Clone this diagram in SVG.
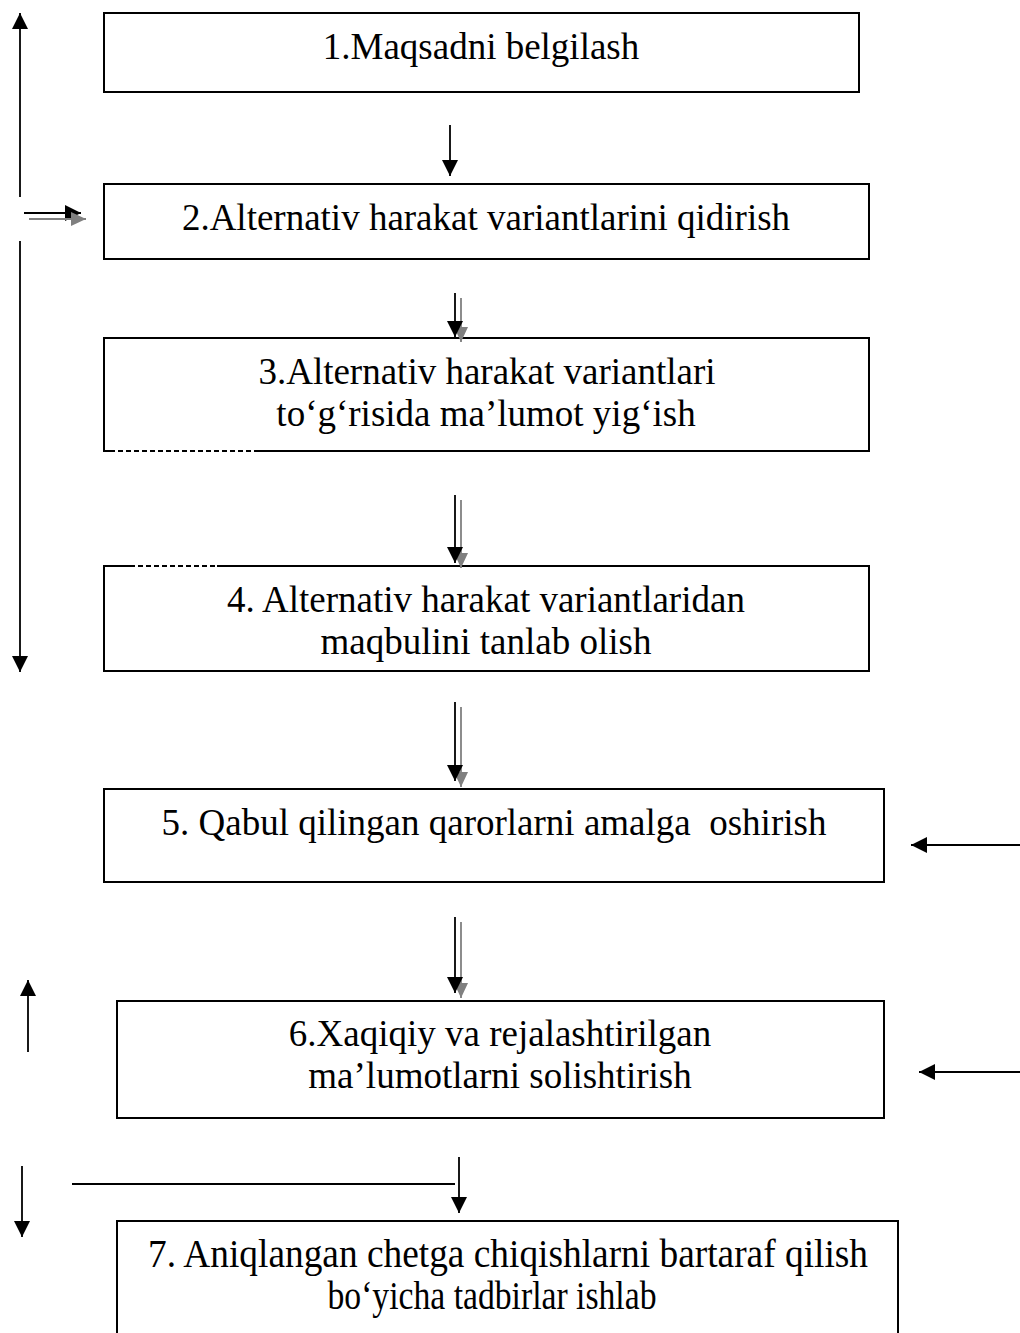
<svg xmlns="http://www.w3.org/2000/svg" width="1020" height="1333" viewBox="0 0 1020 1333">
<defs>
<style>
.box{fill:#fff;stroke:#000;stroke-width:2}
.t{font-family:"Liberation Serif","Times New Roman",serif;font-size:37px;fill:#000;text-anchor:middle}
.c{stroke:#000;stroke-width:1.8;fill:none}
.g{stroke:#808080;stroke-width:1.8;fill:none}
</style>
<marker id="ah" markerUnits="userSpaceOnUse" markerWidth="17" markerHeight="17" refX="16" refY="8" orient="auto" viewBox="0 0 17 17"><path d="M0,0 L16,8 L0,16 z" fill="#000"/></marker>
<marker id="ag" markerUnits="userSpaceOnUse" markerWidth="17" markerHeight="17" refX="15" refY="7" orient="auto" viewBox="0 0 17 17"><path d="M0,0 L15,7 L0,14 z" fill="#808080"/></marker>
</defs>
<rect width="1020" height="1333" fill="#fff"/>
<g id="node1"><rect class="box" x="104" y="13" width="755" height="79"/><text class="t" x="481" y="59">1.Maqsadni belgilash</text></g>
<g id="node2"><rect class="box" x="104" y="184" width="765" height="75"/><text class="t" x="486" y="230">2.Alternativ harakat variantlarini qidirish</text></g>
<g id="node3"><path class="box" d="M255,451 L869,451 L869,338 L104,338 L104,451 L110,451"/><path d="M110,451 L255,451" stroke="#000" stroke-width="2" stroke-dasharray="5,3" fill="none"/><text class="t" x="487" y="384">3.Alternativ harakat variantlari</text><text class="t" x="486" y="426">to‘g‘risida ma’lumot yig‘ish</text></g>
<g id="node4"><path class="box" d="M130,566 L104,566 L104,671 L869,671 L869,566 L217,566"/><path d="M130,566 L217,566" stroke="#000" stroke-width="2" stroke-dasharray="5,3" fill="none"/><text class="t" x="486" y="612">4. Alternativ harakat variantlaridan</text><text class="t" x="486" y="654">maqbulini tanlab olish</text></g>
<g id="node5"><rect class="box" x="104" y="789" width="780" height="93"/><text class="t" x="494" y="835" xml:space="preserve">5. Qabul qilingan qarorlarni amalga  oshirish</text></g>
<g id="node6"><rect class="box" x="117" y="1001" width="767" height="117"/><text class="t" x="500" y="1046">6.Xaqiqiy va rejalashtirilgan</text><text class="t" x="500" y="1088">ma’lumotlarni solishtirish</text></g>
<g id="node7"><rect class="box" x="117" y="1221" width="781" height="130"/><text class="t" x="508" y="1267" style="font-size:40px" textLength="720" lengthAdjust="spacingAndGlyphs">7. Aniqlangan chetga chiqishlarni bartaraf qilish</text><text class="t" x="492" y="1309" style="font-size:40px" textLength="329" lengthAdjust="spacingAndGlyphs">bo‘yicha tadbirlar ishlab</text></g>
<g id="connectors">
<line class="c" x1="20" y1="197" x2="20" y2="13" marker-end="url(#ah)"/>
<line class="c" x1="24" y1="213" x2="81" y2="213" marker-end="url(#ah)"/>
<line class="g" x1="29" y1="219" x2="86" y2="219" marker-end="url(#ag)"/>
<line class="c" x1="20" y1="241" x2="20" y2="672" marker-end="url(#ah)"/>
<line class="c" x1="450" y1="125" x2="450" y2="176" marker-end="url(#ah)"/>
<line class="g" x1="461" y1="298" x2="461" y2="342" marker-end="url(#ag)"/>
<line class="c" x1="455" y1="293" x2="455" y2="337" marker-end="url(#ah)"/>
<line class="g" x1="461" y1="500" x2="461" y2="568" marker-end="url(#ag)"/>
<line class="c" x1="455" y1="495" x2="455" y2="563" marker-end="url(#ah)"/>
<line class="g" x1="461" y1="707" x2="461" y2="787" marker-end="url(#ag)"/>
<line class="c" x1="455" y1="702" x2="455" y2="781" marker-end="url(#ah)"/>
<line class="g" x1="461" y1="922" x2="461" y2="998" marker-end="url(#ag)"/>
<line class="c" x1="455" y1="917" x2="455" y2="993" marker-end="url(#ah)"/>
<line class="c" x1="1020" y1="845" x2="911" y2="845" marker-end="url(#ah)"/>
<line class="c" x1="1020" y1="1072" x2="919" y2="1072" marker-end="url(#ah)"/>
<line class="c" x1="28" y1="1052" x2="28" y2="980" marker-end="url(#ah)"/>
<line class="c" x1="22" y1="1166" x2="22" y2="1237" marker-end="url(#ah)"/>
<line class="c" x1="72" y1="1184" x2="455" y2="1184"/>
<line class="c" x1="459" y1="1157" x2="459" y2="1213" marker-end="url(#ah)"/>
</g>
</svg>
